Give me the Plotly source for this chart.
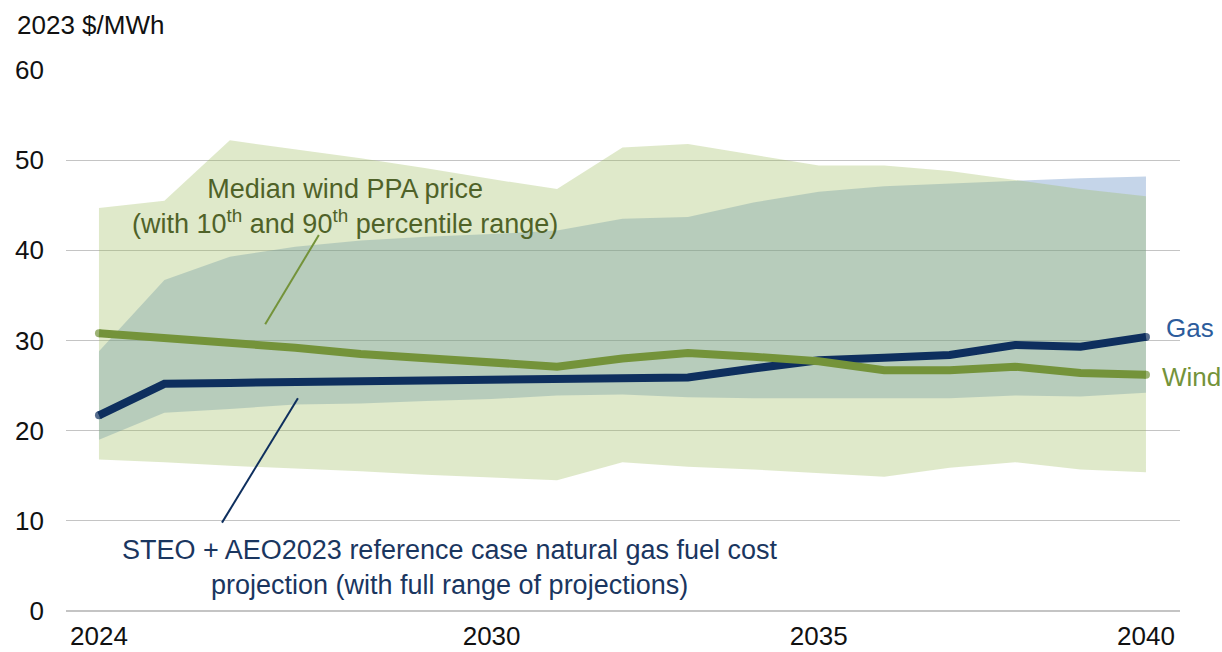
import plotly.graph_objects as go

# Projection years
years = list(range(2024, 2041))

# Wind PPA prices (2023 $/MWh): median and 10th/90th percentile band
wind_median = [30.8, 30.3, 29.8, 29.2, 28.5, 28.0, 27.5, 27.1, 28.0, 28.6, 28.2, 27.7, 26.7, 26.7, 27.1, 26.4, 26.2]
wind_p90 = [44.7, 45.5, 52.2, 51.2, 50.2, 49.1, 47.9, 46.8, 51.4, 51.8, 50.6, 49.4, 49.4, 48.8, 47.8, 46.8, 46.0]
wind_p10 = [16.8, 16.5, 16.1, 15.8, 15.5, 15.1, 14.8, 14.5, 16.5, 16.0, 15.7, 15.3, 14.9, 15.9, 16.5, 15.7, 15.4]

# Natural gas fuel cost: reference case and full range of projections
gas_ref = [21.7, 25.2, 25.3, 25.4, 25.4, 25.5, 25.6, 25.7, 25.8, 25.9, 26.9, 27.8, 28.1, 28.4, 29.5, 29.3, 30.4]
gas_high = [28.8, 36.7, 39.3, 40.4, 41.1, 41.5, 41.8, 42.2, 43.5, 43.7, 45.3, 46.5, 47.1, 47.4, 47.7, 48.0, 48.2]
gas_low = [19.0, 22.0, 22.4, 22.9, 23.0, 23.3, 23.5, 23.9, 24.0, 23.7, 23.6, 23.6, 23.6, 23.6, 23.9, 23.8, 24.2]

x_ticks = [2024, 2030, 2035, 2040]
y_ticks = [0, 10, 20, 30, 40, 50, 60]

FONT = "Liberation Sans, Arial, sans-serif"
GAS_FILL = "rgba(79,129,189,0.33)"
WIND_FILL = "rgba(155,187,89,0.32)"
GAS_LINE = "#0E2F5E"
WIND_LINE = "#74933A"

fig = go.Figure()

# Gas projection range band
fig.add_trace(go.Scatter(x=years, y=gas_low, mode="lines", line=dict(width=0),
                         hoverinfo="skip", showlegend=False))
fig.add_trace(go.Scatter(x=years, y=gas_high, mode="lines", line=dict(width=0),
                         fill="tonexty", fillcolor=GAS_FILL, showlegend=False))

# Wind percentile band
fig.add_trace(go.Scatter(x=years, y=wind_p10, mode="lines", line=dict(width=0),
                         hoverinfo="skip", showlegend=False))
fig.add_trace(go.Scatter(x=years, y=wind_p90, mode="lines", line=dict(width=0),
                         fill="tonexty", fillcolor=WIND_FILL, showlegend=False))

# Central lines (small end markers give the rounded line ends)
end_sizes = [8] + [0] * (len(years) - 2) + [8]
fig.add_trace(go.Scatter(x=years, y=gas_ref, mode="lines+markers",
                         line=dict(color=GAS_LINE, width=8),
                         marker=dict(size=end_sizes, color=GAS_LINE, line=dict(width=0)),
                         showlegend=False))
fig.add_trace(go.Scatter(x=years, y=wind_median, mode="lines+markers",
                         line=dict(color=WIND_LINE, width=8),
                         marker=dict(size=end_sizes, color=WIND_LINE, line=dict(width=0)),
                         showlegend=False))

# Leader lines from the callouts to the series
fig.add_shape(type="line", x0=2027.36, y0=41.7, x1=2026.54, y1=31.8,
              line=dict(color=WIND_LINE, width=2))
fig.add_shape(type="line", x0=2027.04, y0=23.6, x1=2025.88, y1=9.8,
              line=dict(color=GAS_LINE, width=2))

fig.add_annotation(x=2027.76, y=44.85, xref="x", yref="y",
                   text="Median wind PPA price<br>(with 10<sup>th</sup> and 90<sup>th</sup> percentile range)",
                   showarrow=False, xanchor="center", yanchor="middle",
                   font=dict(family=FONT, size=27, color="#4F6228"))
fig.add_annotation(x=2029.36, y=4.8, xref="x", yref="y",
                   text="STEO + AEO2023 reference case natural gas fuel cost<br>projection (with full range of projections)",
                   showarrow=False, xanchor="center", yanchor="middle",
                   font=dict(family=FONT, size=27, color="#1A365F"))

# Series end labels
fig.add_annotation(x=2040.27, y=31.35, xref="x", yref="y", text="Gas",
                   showarrow=False, xanchor="left", yanchor="middle",
                   font=dict(family=FONT, size=26, color="#2C5C9C"))
fig.add_annotation(x=2040.21, y=25.95, xref="x", yref="y", text="Wind",
                   showarrow=False, xanchor="left", yanchor="middle",
                   font=dict(family=FONT, size=26, color=WIND_LINE))

# Unit label above the value axis
fig.add_annotation(x=-0.0458, y=1.0835, xref="paper", yref="paper", text="2023 $/MWh",
                   showarrow=False, xanchor="left", yanchor="middle",
                   font=dict(family=FONT, size=26, color="#111111"))

fig.update_layout(
    width=1222, height=652,
    margin=dict(l=66, r=42, t=70, b=41),
    paper_bgcolor="white", plot_bgcolor="white",
    font=dict(family=FONT, size=26, color="#111111"),
    showlegend=False,
)
fig.update_xaxes(range=[2023.496, 2040.52], tickvals=x_ticks, ticktext=[str(v) for v in x_ticks],
                 showgrid=False, zeroline=False, showline=False, ticks="", automargin=False,
                 ticklabelstandoff=7, tickfont=dict(family=FONT, size=26, color="#111111"))
fig.update_yaxes(range=[0, 60], tickvals=y_ticks, showgrid=True, gridcolor="#C4C4C4", gridwidth=1,
                 zeroline=True, zerolinecolor="#C4C4C4", zerolinewidth=1.5, showline=False, ticks="",
                 automargin=False,
                 ticklabelstandoff=21, tickfont=dict(family=FONT, size=26, color="#111111"))

fig.write_html("out.html")
